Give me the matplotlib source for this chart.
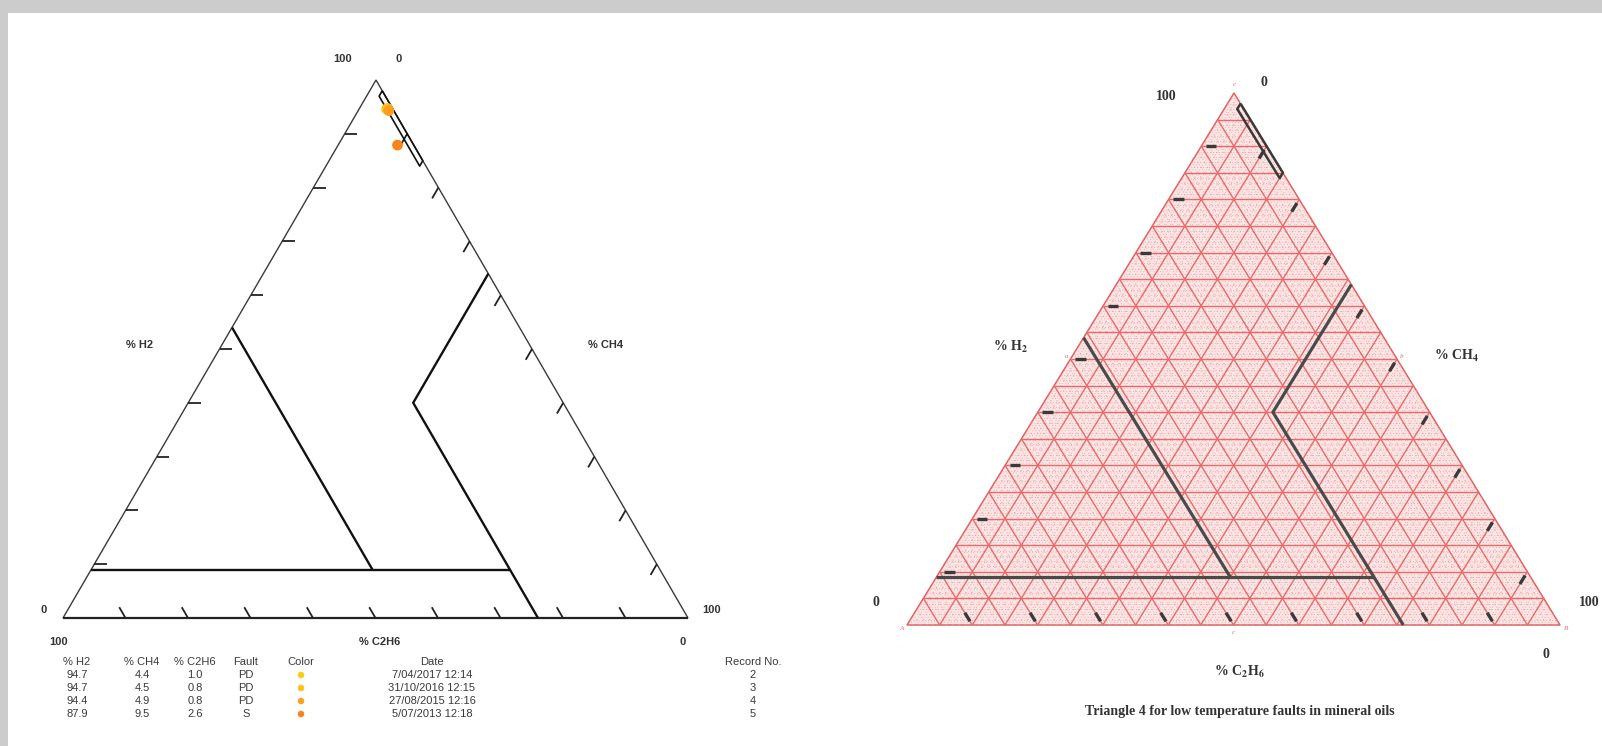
import matplotlib
matplotlib.use("Agg")
import matplotlib.pyplot as plt
import numpy as np
from matplotlib.patches import Rectangle, Polygon

plt.rcParams['mathtext.fontset'] = 'stix'
plt.rcParams['mathtext.default'] = 'bf'

# dissolved gas records (Duval triangle 4: H2 / CH4 / C2H6)
h2 = [94.7, 94.7, 94.4, 87.9]
ch4 = [4.4, 4.5, 4.9, 9.5]
c2h6 = [1.0, 0.8, 0.8, 2.6]
faults = ['PD', 'PD', 'PD', 'S']
dates = ['7/04/2017 12:14', '31/10/2016 12:15', '27/08/2015 12:16', '5/07/2013 12:18']
records = [2, 3, 4, 5]
dot_colors = ['#f6cf12', '#ffbf1c', '#ff9d1d', '#f7851a']

table_headers = ['% H2', '% CH4', '% C2H6', 'Fault', 'Color', 'Date', 'Record No.']

# zone boundaries as (H2, CH4, C2H6) vertices
zone_o = [(54, 0, 46), (9, 45, 46)]
zone_nd = [(9, 0, 91), (9, 67, 24)]
zone_c = [(64, 36, 0), (40, 36, 24), (0, 76, 24)]
zone_pd = [(98, 2, 0), (97, 2, 1), (84, 15, 1), (85, 15, 0), (98, 2, 0)]

axis_ticks = [10, 20, 30, 40, 50, 60, 70, 80, 90]

# triangle corners in pixels: apex = H2, bottom-right = CH4, bottom-left = C2H6
tri_left = {'h2': (376, 80), 'ch4': (688, 618), 'c2h6': (63, 618)}
tri_right = {'h2': (1234, 93), 'ch4': (1560, 625), 'c2h6': (907, 625)}


def tern(tri, a, b, c):
    s = a + b + c
    x = (a * tri['h2'][0] + b * tri['ch4'][0] + c * tri['c2h6'][0]) / s
    y = (a * tri['h2'][1] + b * tri['ch4'][1] + c * tri['c2h6'][1]) / s
    return x, y


def polyline(ax, tri, pts, **kw):
    xy = np.array([tern(tri, *p) for p in pts])
    ax.plot(xy[:, 0], xy[:, 1], solid_capstyle='butt', **kw)


def draw_ticks(ax, tri, start, length, **kw):
    for t in axis_ticks:
        # H2 ticks, horizontal from the left side
        polyline(ax, tri, [(t, start, 100 - t - start), (t, start + length, 100 - t - start - length)], **kw)
        # CH4 ticks, parallel to the left side
        polyline(ax, tri, [(100 - t - start, t, start), (100 - t - start - length, t, start + length)], **kw)
        # C2H6 ticks, parallel to the right side
        polyline(ax, tri, [(start, 100 - t - start, t), (start + length, 100 - t - start - length, t)], **kw)


fig = plt.figure(figsize=(16.02, 7.46), dpi=100, facecolor='#cccccc')
ax = fig.add_axes([0, 0, 1, 1])
ax.set_xlim(0, 1602)
ax.set_ylim(746, 0)
ax.axis('off')
ax.add_patch(Rectangle((8, 13), 1602, 746, facecolor='white', edgecolor='none', zorder=0))

sans = ['Liberation Sans Narrow', 'Liberation Sans', 'DejaVu Sans']
serif = ['Liberation Serif', 'DejaVu Serif']

# ---- left: software triangle ----
T = tri_left
corners = [tern(T, 100, 0, 0), tern(T, 0, 100, 0), tern(T, 0, 0, 100)]
ax.add_patch(Polygon(corners, closed=True, fill=False, edgecolor='#3a3a3a', lw=1.0, zorder=2))
polyline(ax, T, [(0, 100, 0), (0, 0, 100)], color='#222222', lw=1.6, zorder=2)
draw_ticks(ax, T, 0, 2, color='#222222', lw=1.3, zorder=3)
for zone in (zone_o, zone_nd, zone_c):
    polyline(ax, T, zone, color='#111111', lw=1.7, zorder=3)
polyline(ax, T, zone_pd, color='#111111', lw=1.2, zorder=3)

px = [tern(T, a, b, c)[0] for a, b, c in zip(h2, ch4, c2h6)]
py = [tern(T, a, b, c)[1] for a, b, c in zip(h2, ch4, c2h6)]
ax.scatter(px, py, s=60, c=dot_colors, edgecolors='none', zorder=4)

lab = dict(fontsize=8, fontweight='bold', color='#333333', family=sans, ha='center', va='center')
ax.text(343, 59, '100', **lab)
ax.text(399, 59, '0', **lab)
ax.text(140, 345, '% H2', **lab)
ax.text(606, 345, '% CH4', **lab)
ax.text(44, 610, '0', **lab)
ax.text(712, 610, '100', **lab)
ax.text(59, 642, '100', **lab)
ax.text(683, 642, '0', **lab)
ax.text(380, 642, '% C2H6', **lab)

col_x = [77, 142, 195, 246, 301, 432, 753]
tbl = dict(fontsize=8, color='#3a3a3a', family=sans, ha='center', va='center')
for x, head in zip(col_x, table_headers):
    ax.text(x, 662, head, **tbl)
for i in range(len(h2)):
    y = 675 + 13 * i
    ax.text(col_x[0], y, f'{h2[i]:.1f}', **tbl)
    ax.text(col_x[1], y, f'{ch4[i]:.1f}', **tbl)
    ax.text(col_x[2], y, f'{c2h6[i]:.1f}', **tbl)
    ax.text(col_x[3], y, faults[i], **tbl)
    ax.scatter([col_x[4]], [y], s=22, c=[dot_colors[i]], edgecolors='none', zorder=4)
    ax.text(col_x[5], y, dates[i], **tbl)
    ax.text(col_x[6], y, str(records[i]), **tbl)

# ---- right: reference triangle 4 on grid paper ----
T = tri_right
corners = [tern(T, 100, 0, 0), tern(T, 0, 100, 0), tern(T, 0, 0, 100)]
ax.add_patch(Polygon(corners, closed=True, facecolor='#fbe5e5', edgecolor='#e26060', lw=1.1, zorder=1))
for v in range(1, 100):
    if v % 5 == 0:
        kw = dict(color='#e86a6a', lw=1.0, zorder=1.5)
    else:
        kw = dict(color='#ee9a9a', lw=0.6, ls=(0, (1, 2.5)), zorder=1.2)
    polyline(ax, T, [(v, 0, 100 - v), (v, 100 - v, 0)], **kw)
    polyline(ax, T, [(0, v, 100 - v), (100 - v, v, 0)], **kw)
    polyline(ax, T, [(0, 100 - v, v), (100 - v, 0, v)], **kw)

draw_ticks(ax, T, 0.7, 1.6, color='#3a3a3a', lw=2.4, zorder=3)
for zone in (zone_o, zone_nd, zone_c):
    polyline(ax, T, zone, color='#4a4a4a', lw=2.3, zorder=3)
polyline(ax, T, zone_pd, color='#3a3a3a', lw=1.8, zorder=3)

red = dict(fontsize=5, color='#e07070', family=serif, style='italic', ha='center', va='center')
ax.text(1234, 84, 'c', **red)
ax.text(902, 629, 'A', **red)
ax.text(1566, 629, 'B', **red)
lx, ly = tern(T, 50, 0, 50)
ax.text(lx - 4, ly - 2, 'a', **red)
rx, ry = tern(T, 50, 50, 0)
ax.text(rx + 4, ry - 2, 'b', **red)
ax.text(1233, 633, 'c', **red)

rlab = dict(fontsize=10, fontweight='bold', color='#333333', family=serif, ha='center', va='center')
ax.text(1166, 97, '100', **rlab)
ax.text(1264, 83, '0', **rlab)
ax.text(1011, 347, r'% H$_2$', **rlab)
ax.text(1457, 356, r'% CH$_4$', **rlab)
ax.text(876, 603, '0', **rlab)
ax.text(1579, 603, '100', fontsize=10, fontweight='bold', color='#333333', family=serif, ha='left', va='center')
ax.text(1239, 672, r'% C$_2$H$_6$', **rlab)
ax.text(1546, 655, '0', **rlab)
ax.text(1240, 711, 'Triangle 4 for low temperature faults in mineral oils', **rlab)

fig.savefig('out.png', dpi=100, facecolor=fig.get_facecolor())
